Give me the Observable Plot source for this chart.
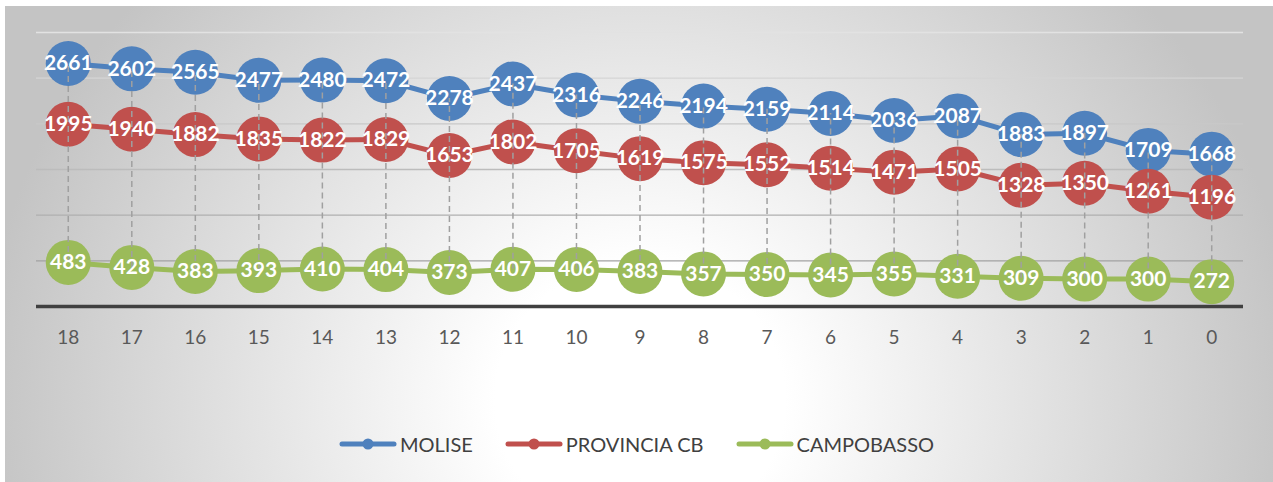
<!DOCTYPE html>
<html>
<head>
<meta charset="utf-8">
<script src="https://cdn.jsdelivr.net/npm/d3@7"></script>
<script src="https://cdn.jsdelivr.net/npm/@observablehq/plot@0.6"></script>
<style>
  html, body { margin: 0; padding: 0; background: #ffffff; width: 1273px; height: 482px; overflow: hidden; }
  #frame {
    position: absolute; left: 5px; top: 6px; right: 0; bottom: 0;
    background: radial-gradient(ellipse 660px 620px at 635px 394px, #ffffff 0%, #ffffff 22%, #c4c4c4 100%);
  }
  #chart { position: absolute; left: 0; top: 0; }
  #legend {
    position: absolute; left: 0; top: 432px; width: 1273px;
    display: flex; justify-content: center; align-items: center; gap: 32px;
    font-family: Lato, "Liberation Sans", sans-serif; font-size: 20px; color: #404040;
  }
  .item { display: flex; align-items: center; gap: 3px; }
  .item svg { display: block; }
</style>
</head>
<body>
<div id="frame"></div>
<div id="chart"></div>
<div id="legend"></div>
<script>
const years = ["18","17","16","15","14","13","12","11","10","9","8","7","6","5","4","3","2","1","0"];
const seriesNames = ["MOLISE", "PROVINCIA CB", "CAMPOBASSO"];
const molise = [2661,2602,2565,2477,2480,2472,2278,2437,2316,2246,2194,2159,2114,2036,2087,1883,1897,1709,1668];
const provinciaCB = [1995,1940,1882,1835,1822,1829,1653,1802,1705,1619,1575,1552,1514,1471,1505,1328,1350,1261,1196];
const campobasso = [483,428,383,393,410,404,373,407,406,383,357,350,345,355,331,309,300,300,272];
const gridValues = [500, 1000, 1500, 2000, 2500, 3000];

const colors = ["#4F81BD", "#C0504D", "#9BBB59"];
const seriesValues = [molise, provinciaCB, campobasso];

const rows = [];
seriesNames.forEach((s, i) => {
  years.forEach((yr, j) => rows.push({series: s, year: yr, value: seriesValues[i][j]}));
});
const drops = years.map((yr, j) => ({year: yr, lo: campobasso[j], hi: molise[j]}));

const gridColor = d3.interpolateRgb("#a2a2a2", "#e2e2e2");
const font = "Lato, 'Liberation Sans', sans-serif";

const marks = [
  Plot.ruleY(gridValues, {y: d => d, stroke: d => gridColor((d - 500) / 2500), strokeWidth: 1.3}),
  Plot.ruleY([0], {stroke: "#404040", strokeWidth: 3.5})
];
seriesNames.forEach((s, i) => {
  const data = rows.filter(r => r.series === s);
  marks.push(Plot.line(data, {x: "year", y: "value", stroke: colors[i], strokeWidth: 5}));
  marks.push(Plot.dot(data, {x: "year", y: "value", r: 22.5, fill: colors[i], stroke: "none"}));
});
marks.push(Plot.ruleX(drops, {x: "year", y1: "lo", y2: "hi", stroke: "#a0a0a0", strokeWidth: 1.5, strokeDasharray: "6,4"}));
marks.push(Plot.text(rows, {x: "year", y: "value", text: d => String(d.value), fill: "white", fontWeight: "bold", fontSize: 21, fontFamily: font}));
marks.push(Plot.axisX({tickSize: 0, tickPadding: 24, fontSize: 19, fontFamily: font, color: "#595959", label: null}));

const chart = Plot.plot({
  width: 1273,
  height: 360,
  marginLeft: 36,
  marginRight: 30,
  marginTop: 32,
  marginBottom: 54,
  style: {background: "transparent", overflow: "visible", fontFamily: font},
  x: {type: "point", domain: years, padding: 0.5, round: false},
  y: {domain: [0, 3000], axis: null},
  marks
});
document.getElementById("chart").appendChild(chart);

const legend = document.getElementById("legend");
seriesNames.forEach((s, i) => {
  const item = document.createElement("div");
  item.className = "item";
  item.innerHTML = `<svg width="58" height="14"><line x1="3" y1="7" x2="55" y2="7" stroke="${colors[i]}" stroke-width="5" stroke-linecap="round"/><circle cx="29" cy="7" r="5.5" fill="${colors[i]}"/></svg><span>${s}</span>`;
  legend.appendChild(item);
});
</script>
</body>
</html>
